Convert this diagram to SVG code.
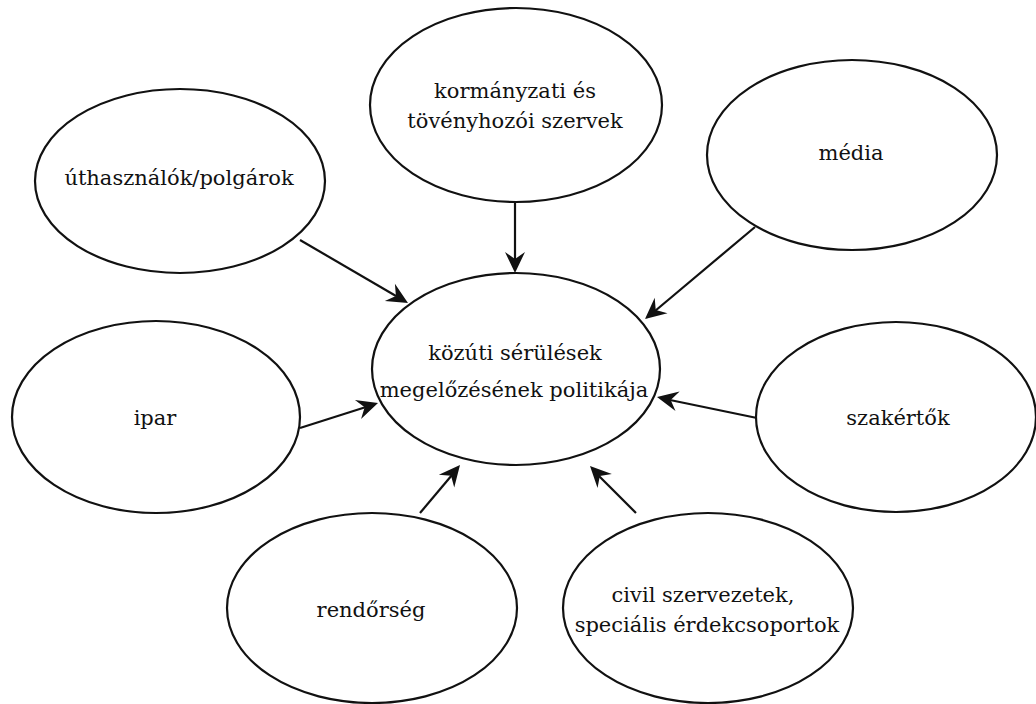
<svg xmlns="http://www.w3.org/2000/svg" width="1036" height="704" viewBox="0 0 1036 704">
  <style>
    ellipse.shape { fill: #ffffff; stroke: #111111; stroke-width: 2.2; }
    text.label { font-family: 'DejaVu Serif', serif; font-size: 21px; fill: #111111; text-anchor: middle; }
    line.edge { stroke: #111111; stroke-width: 2.2; fill: none; }
    path.head { fill: #111111; stroke: none; }
  </style>
  <defs>
    <path id="head" d="M0,0 L-21,-10 L-14,0 L-21,10 Z"/>
  </defs>
  <rect width="1036" height="704" fill="#ffffff"/>

  <!-- connectors: every actor points at the central policy node; heads drawn as notched triangles -->
  <g id="connectors" fill="#111111">
    <line class="edge" x1="515" y1="203" x2="515" y2="260"/>
    <use href="#head" transform="translate(515,273) rotate(90)"/>
    <line class="edge" x1="300" y1="240" x2="396" y2="296"/>
    <use href="#head" transform="translate(408,303) rotate(30.3)"/>
    <line class="edge" x1="755" y1="227" x2="655" y2="311"/>
    <use href="#head" transform="translate(645,319) rotate(140.1)"/>
    <line class="edge" x1="300" y1="428" x2="366" y2="407"/>
    <use href="#head" transform="translate(378,403) rotate(-17.8)"/>
    <line class="edge" x1="757" y1="418" x2="670" y2="400"/>
    <use href="#head" transform="translate(657,397) rotate(191.9)"/>
    <line class="edge" x1="420" y1="513" x2="452" y2="475"/>
    <use href="#head" transform="translate(460,465) rotate(-50.2)"/>
    <line class="edge" x1="636" y1="513" x2="599" y2="476"/>
    <use href="#head" transform="translate(590,466) rotate(-134.4)"/>
  </g>

  <g id="node-kormanyzati">
    <ellipse class="shape" cx="516" cy="105" rx="146" ry="97"/>
    <text class="label" x="515" y="98">kormányzati és</text>
    <text class="label" x="515" y="128">tövényhozói szervek</text>
  </g>

  <g id="node-uthasznalok">
    <ellipse class="shape" cx="180" cy="181" rx="145" ry="92"/>
    <text class="label" x="179" y="185">úthasználók/polgárok</text>
  </g>

  <g id="node-media">
    <ellipse class="shape" cx="852" cy="155" rx="145" ry="95"/>
    <text class="label" x="851" y="160">média</text>
  </g>

  <g id="node-kozuti">
    <ellipse class="shape" cx="516" cy="369" rx="144" ry="96"/>
    <text class="label" x="515" y="360">közúti sérülések</text>
    <text class="label" x="514" y="397">megelőzésének politikája</text>
  </g>

  <g id="node-ipar">
    <ellipse class="shape" cx="156" cy="417" rx="144" ry="96"/>
    <text class="label" x="155" y="425">ipar</text>
  </g>

  <g id="node-szakertok">
    <ellipse class="shape" cx="896" cy="417" rx="140" ry="95"/>
    <text class="label" x="898" y="425">szakértők</text>
  </g>

  <g id="node-rendorseg">
    <ellipse class="shape" cx="372" cy="608" rx="145" ry="95"/>
    <text class="label" x="371" y="617">rendőrség</text>
  </g>

  <g id="node-civil">
    <ellipse class="shape" cx="708" cy="608" rx="145" ry="95"/>
    <text class="label" x="703" y="602">civil szervezetek,</text>
    <text class="label" x="707" y="632">speciális érdekcsoportok</text>
  </g>
</svg>
